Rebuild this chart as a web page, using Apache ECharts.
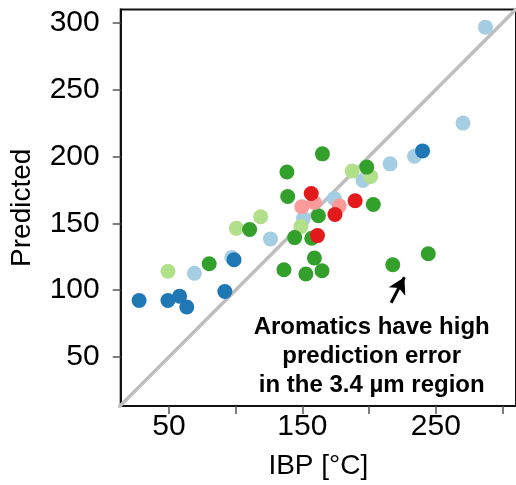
<!DOCTYPE html>
<html><head><meta charset="utf-8">
<script src="https://cdn.jsdelivr.net/npm/echarts@6/dist/echarts.min.js"></script>
<style>html,body{margin:0;padding:0;background:#fff}#c{width:516px;height:485px}</style>
</head><body><div id="c"></div>
<script>
var darkBlue = [[27.7,92.3],[49.3,92.3],[58,95.5],[63.4,87.4],[91.9,99],[98.8,122.7],[240,204.1]];
var lightBlue = [[69.1,112.6],[97.1,124.5],[126.1,138.3],[150.8,153.6],[173.9,168.5],[195.4,182],[215.7,194.4],[233.9,200.1],[270.3,224.9],[287.1,296.6]];
var lightGreen = [[49.3,114.1],[100.5,146.2],[118.7,154.9],[148.9,147.5],[187.3,189],[201.2,185]];
var darkGreen = [[80.2,119.7],[110.5,145.3],[136.2,115.3],[138.4,188.3],[139,170],[144.2,139.3],[152.6,112.1],[157,138.8],[159,124],[162,155.6],[164.7,114.5],[165,201.9],[198.2,192],[203.1,164],[217.7,119],[244.3,127.2]];
var pink = [[149.6,162.3],[159,165.5],[177.6,163]];
var red = [[156.6,172.2],[189.5,166.8],[174.4,156.6],[161.3,140.8]];
var identityLine = [[0,0],[320,320]];
var arrowLine = [[216.5,90.6],[226.4,109.6]];
var xTicks = [50,100,150,200,250,300];
var xLabels = [50,150,250];
var yTicks = [50,100,150,200,250,300];
var annotation = ['Aromatics have high','prediction error','in the 3.4 µm region'];

var FONT = '"Liberation Sans", Arial, sans-serif';
function sc(name, data, color){
  return {type:'scatter', name:name, data:data, symbolSize:15, itemStyle:{color:color, opacity:1}, z:3};
}
var chart = echarts.init(document.getElementById('c'), null, {renderer:'canvas'});
chart.setOption({
  animation:false,
  grid:{left:120.7, top:9.5, bottom:76, right:-3.2, show:true, borderColor:'#111', borderWidth:2, backgroundColor:'transparent'},
  xAxis:{type:'value', min:13.9, max:310, name:'IBP [°C]', nameLocation:'middle', nameGap:46,
    nameTextStyle:{fontFamily:FONT, fontSize:28, color:'#000'},
    axisLine:{lineStyle:{color:'#111', width:2}},
    axisTick:{customValues:xTicks, length:8, lineStyle:{color:'#555', width:1.5}},
    axisLabel:{customValues:xLabels, margin:6, fontFamily:FONT, fontSize:30, color:'#000'},
    splitLine:{show:false}},
  yAxis:{type:'value', min:13.4, max:309.8, name:'Predicted', nameLocation:'middle', nameGap:84,
    nameTextStyle:{fontFamily:FONT, fontSize:28, color:'#000'},
    axisLine:{lineStyle:{color:'#111', width:2}},
    axisTick:{customValues:yTicks, length:8, lineStyle:{color:'#555', width:1.5}},
    axisLabel:{customValues:yTicks, margin:21, fontFamily:FONT, fontSize:30, color:'#000'},
    splitLine:{show:false}},
  series:[
    {type:'line', data:identityLine, symbol:'none', clip:true, lineStyle:{color:'#bebebe', width:3.5}, z:2,
     markLine:{silent:true, symbol:['none','arrow'], symbolSize:[14,16], label:{show:false},
       lineStyle:{color:'#000', width:3, type:'solid'},
       data:[[{coord:arrowLine[0]},{coord:arrowLine[1]}]]}},
    sc('lightBlue', lightBlue, '#a6cee3'),
    sc('darkBlue', darkBlue, '#1f78b4'),
    sc('lightGreen', lightGreen, '#b2df8a'),
    sc('darkGreen', darkGreen, '#33a02c'),
    sc('pink', pink, '#fb9a99'),
    sc('red', red, '#e31a1c')
  ],
  graphic:annotation.map(function(t,i){
    return {type:'text', x:371.7, y:327.5+i*28.7, style:{text:t, fontFamily:FONT, fontWeight:'bold', fontSize:24, fill:'#000', align:'center', verticalAlign:'middle'}, z:10};
  })
});
</script></body></html>
